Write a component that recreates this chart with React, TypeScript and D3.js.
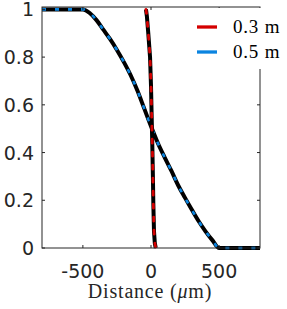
import * as d3 from 'd3';

// broad profile (0.5 m)
const wideX = [-800, -500, -450, -400, -350, -300, -250, -200, -150, -100, -50, 0, 50, 100, 150, 200, 250, 300, 350, 400, 450, 500, 800];
const wideY = [1, 1, 0.985, 0.955, 0.915, 0.875, 0.83, 0.78, 0.725, 0.66, 0.585, 0.51, 0.44, 0.38, 0.323, 0.262, 0.21, 0.16, 0.112, 0.07, 0.033, 0, 0];

// steep profile (0.3 m)
const steepX = [-37, -30, -20, -7, 0, 5, 10, 14, 17, 22, 28, 35];
const steepY = [1, 0.97, 0.9, 0.8, 0.68, 0.55, 0.42, 0.3, 0.19, 0.07, 0.02, 0];

const xTicks = [-500, 0, 500];
const yTicks = [0, 0.2, 0.4, 0.6, 0.8, 1];
const legendLabels = ['0.3 m', '0.5 m'];
const legendColors = ['#d40000', '#0a84e0'];

export default function App() {
  const W = 287, H = 309;
  const m = { left: 42, right: 260, top: 7, bottom: 248 };
  const x = d3.scaleLinear().domain([-800, 800]).range([m.left, m.right]);
  const y = d3.scaleLinear().domain([0, 1.01]).range([m.bottom, m.top]);
  const line = d3.line<[number, number]>().x(d => x(d[0])).y(d => y(d[1])).curve(d3.curveMonotoneX);
  const lineV = d3.line<[number, number]>().x(d => x(d[0])).y(d => y(d[1]));

  const wide = line(wideX.map((v, i) => [v, wideY[i]] as [number, number])) || '';
  const steep = lineV(steepX.map((v, i) => [v, steepY[i]] as [number, number])) || '';
  const axisColor = '#262626';

  return (
    <svg width={W} height={H} style={{ position: 'absolute', left: 0, top: 0, background: '#fff' }}>
      {/* curves */}
      <path d={wide} fill="none" stroke="#000" strokeWidth={4} />
      <path d={wide} fill="none" stroke={legendColors[1]} strokeWidth={2.6} strokeDasharray="4,9" />
      <path d={steep} fill="none" stroke="#000" strokeWidth={4} />
      <path d={steep} fill="none" stroke={legendColors[0]} strokeWidth={2.8} strokeDasharray="4,9" strokeLinecap="round" />

      {/* box */}
      <rect x={m.left} y={m.top} width={m.right - m.left} height={m.bottom - m.top} fill="none" stroke={axisColor} strokeWidth={1} />
      {xTicks.map(t => (
        <g key={'x' + t}>
          <line x1={x(t)} x2={x(t)} y1={m.bottom} y2={m.bottom - 3} stroke={axisColor} />
          <line x1={x(t)} x2={x(t)} y1={m.top} y2={m.top + 3} stroke={axisColor} />
          <text x={x(t)} y={278} textAnchor="middle" fontFamily="DejaVu Sans" fontSize={19} fill={axisColor}>{t}</text>
        </g>
      ))}
      {yTicks.map(t => (
        <g key={'y' + t}>
          <line x1={m.left} x2={m.left + 3} y1={y(t)} y2={y(t)} stroke={axisColor} />
          <line x1={m.right} x2={m.right - 3} y1={y(t)} y2={y(t)} stroke={axisColor} />
          <text x={34} y={y(t) + 7} textAnchor="end" fontFamily="DejaVu Sans" fontSize={19} fill={axisColor}>{t}</text>
        </g>
      ))}
      <text x={150} y={298} textAnchor="middle" fontFamily="Liberation Serif" fontSize={20} letterSpacing={0.8} fill={axisColor}>
        Distance (<tspan fontStyle="italic">μ</tspan>m)
      </text>

      {/* legend */}
      <rect x={188} y={8} width={W - 188} height={61} fill="#fff" />
      {legendLabels.map((l, i) => (
        <g key={l}>
          <line x1={197} x2={217} y1={27 + i * 25} y2={27 + i * 25} stroke={legendColors[i]} strokeWidth={3.3} />
          <text x={233} y={33 + i * 25} fontFamily="Liberation Serif" fontSize={19} letterSpacing={0.8} fill="#000">{l}</text>
        </g>
      ))}
    </svg>
  );
}
